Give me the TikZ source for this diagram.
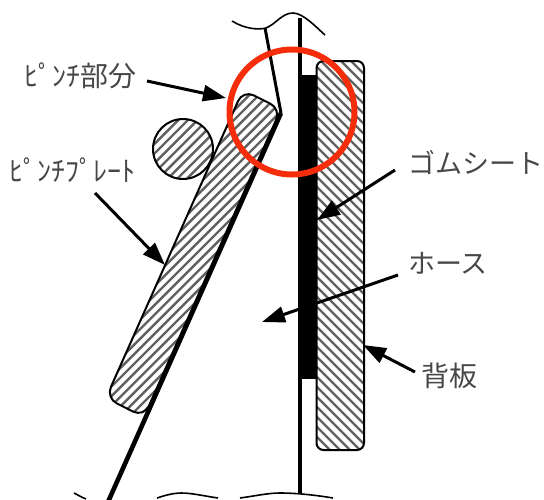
\documentclass[tikz,border=0pt]{standalone}
\usepackage{fontspec}
\newfontfamily\jp{Noto Sans CJK JP}
\usetikzlibrary{arrows.meta}
\definecolor{ringred}{RGB}{245,45,10}
\tikzset{
  lab/.style={font=\jp\fontsize{#1}{#1}\selectfont, text=black!72, inner sep=0pt},
  lab/.default=26,
  callout/.style={line width=3pt, -{Triangle[length=23pt,width=16pt]}},
  edge/.style={line width=2pt},
  hatchline/.style={line width=2.4pt, draw=black!62},
  thin wave/.style={line width=1.6pt}
}
\begin{document}
\begin{tikzpicture}[x=1pt,y=-1pt]
\useasboundingbox (0,0) rectangle (544,499);
\clip (0,0) rectangle (544,499);
% central film
\draw[line width=4pt] (300,18) -- (300,494);
\fill (298,75) rectangle (316,379);
% back plate
\begin{scope}
  \clip[rounded corners=7pt] (316.5,61) rectangle (364,450);
  \foreach \k in {-40,...,80} \draw[hatchline] (300,40+\k*10) -- +(90,90);
\end{scope}
\draw[edge,rounded corners=7pt] (316.5,61) rectangle (364,450);
% roller
\begin{scope}
  \clip (183,149) circle (30);
  \foreach \k in {0,...,14} \draw[hatchline] (130,\k*9.6+130) -- +(110,-110);
\end{scope}
\draw[edge] (183,149) circle (30);
% pinch plate
\begin{scope}
  \clip[rounded corners=12pt] (243,90) -- (281,109) -- (144,417) -- (106,398) -- cycle;
  \foreach \k in {0,...,70} \draw[hatchline] (90,\k*9.6+120) -- +(320,-320);
\end{scope}
\draw[edge,rounded corners=12pt] (243,90) -- (281,109) -- (144,417) -- (106,398) -- cycle;
% pinch film
\draw[line width=3pt] (265,28) -- (281,113);
\draw[line width=4.6pt] (281,113) -- (108,502);
% wavy break lines
\draw[thin wave] (232,21) .. controls (245,29) and (258,30) .. (266,28) .. controls (276,24) and (282,13) .. (293,13) .. controls (303,13) and (316,27) .. (325,35);
\draw[thin wave] (74,493) .. controls (78,495) and (81,497) .. (86,499);
\draw[thin wave] (157,498) .. controls (166,495) and (174,493) .. (181,493) .. controls (192,493) and (204,496) .. (218,498);
\draw[thin wave] (240,498) .. controls (255,496) and (268,493) .. (280,493) .. controls (296,493) and (315,495) .. (333,498);
% red circle
\draw[line width=6pt,draw=ringred] (292,112) circle (62.5);
% labels
\node[lab=28,anchor=west] (pinch) at (24,76) {ﾋﾟﾝﾁ部分};
\node[lab=28,anchor=west] (plate) at (9,170) {ﾋﾟﾝﾁﾌﾟﾚｰﾄ};
\node[lab=27,anchor=west] (gom) at (408,162) {ゴムシート};
\node[lab=27,anchor=west] (hose) at (408,263) {ホース};
\node[lab=28,anchor=west] (back) at (421,376) {背板};
\coordinate (a1s) at (147,81); \coordinate (a1e) at (226,98);
\coordinate (a2s) at (95,193); \coordinate (a2e) at (165,265);
\coordinate (a3s) at (395,170); \coordinate (a3e) at (317,220);
\coordinate (a4s) at (398,275); \coordinate (a4e) at (262,322);
\coordinate (a5s) at (415,372); \coordinate (a5e) at (363,345);
\draw[callout] (a1s) -- (a1e);
\draw[callout] (a2s) -- (a2e);
\draw[callout] (a3s) -- (a3e);
\draw[callout] (a4s) -- (a4e);
\draw[callout] (a5s) -- (a5e);
\end{tikzpicture}
\end{document}
